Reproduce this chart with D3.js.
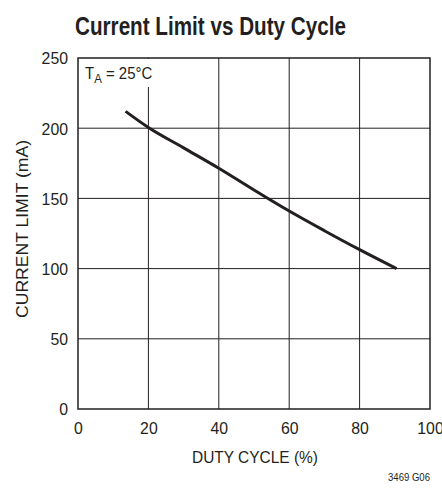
<!DOCTYPE html>
<html><head><meta charset="utf-8">
<script src="https://cdn.jsdelivr.net/npm/d3@7"></script>
<style>body{margin:0;background:#fff}svg{display:block}text{font-family:"Liberation Sans Narrow","Liberation Sans",Arial,sans-serif;fill:#231f20}</style>
</head><body><svg id="c" width="442" height="492"></svg>
<script>
const duty = [13.5, 20, 30, 40, 50, 60, 70, 80, 90.5];
const current = [212, 200.5, 186, 171.5, 156, 141, 127, 113.5, 100];
const xTicks = [0, 20, 40, 60, 80, 100];
const yTicks = [0, 50, 100, 150, 200, 250];

const svg = d3.select("#c");
const L = 78, R = 430, T = 58, B = 409;
const x = d3.scaleLinear().domain([0, 100]).range([L, R]);
const y = d3.scaleLinear().domain([0, 250]).range([B, T]);

function squeeze(sel, f) {
  sel.each(function() {
    const w = this.getComputedTextLength();
    d3.select(this).attr("textLength", w * f).attr("lengthAdjust", "spacingAndGlyphs");
  });
}
function fitTo(sel, w) {
  sel.attr("textLength", w).attr("lengthAdjust", "spacingAndGlyphs");
}

// grid
svg.append("g").selectAll("line").data(xTicks.slice(1, -1)).join("line")
  .attr("x1", d => x(d)).attr("x2", d => x(d)).attr("y1", T).attr("y2", B)
  .attr("stroke", "#231f20").attr("stroke-width", 1);
svg.append("g").selectAll("line").data(yTicks.slice(1, -1)).join("line")
  .attr("y1", d => y(d)).attr("y2", d => y(d)).attr("x1", L).attr("x2", R)
  .attr("stroke", "#231f20").attr("stroke-width", 1);

// label box covering grid
svg.append("rect").attr("x", L + 1).attr("y", T + 1).attr("width", 80).attr("height", 28).attr("fill", "#fff");
const lab = svg.append("text").attr("x", 85).attr("y", 79).attr("font-size", 17);
lab.append("tspan").text("T");
lab.append("tspan").attr("font-size", 13).attr("dy", 4).text("A");
lab.append("tspan").attr("dy", -4).text(" = 25°C");
squeeze(lab, 0.88);

// frame
svg.append("rect").attr("x", L).attr("y", T).attr("width", R - L).attr("height", B - T)
  .attr("fill", "none").attr("stroke", "#231f20").attr("stroke-width", 1.5);

// axes labels
const xa = svg.append("g").attr("transform", `translate(0,${B})`)
  .call(d3.axisBottom(x).tickValues(xTicks).tickSize(0).tickPadding(13));
xa.select(".domain").remove();
xa.selectAll("text").attr("font-size", 17).attr("font-family", null).attr("fill", "#231f20").attr("dy", "0.71em");
squeeze(xa.selectAll("text"), 0.93);
const ya = svg.append("g").attr("transform", `translate(${L},0)`)
  .call(d3.axisLeft(y).tickValues(yTicks).tickSize(0).tickPadding(10));
ya.select(".domain").remove();
ya.selectAll("text").attr("font-size", 17).attr("font-family", null).attr("fill", "#231f20").attr("dy", "0.35em");
squeeze(ya.selectAll("text"), 0.93);

// curve
svg.append("path").datum(duty.map((d, i) => [d, current[i]]))
  .attr("fill", "none").attr("stroke", "#231f20").attr("stroke-width", 3)
  .attr("d", d3.line().x(d => x(d[0])).y(d => y(d[1])).curve(d3.curveMonotoneX));

// titles
fitTo(svg.append("text").attr("x", 210.5).attr("y", 35).attr("text-anchor", "middle")
  .attr("font-size", 25).attr("font-weight", "bold").text("Current Limit vs Duty Cycle"), 271);
fitTo(svg.append("text").attr("x", 255).attr("y", 463).attr("text-anchor", "middle")
  .attr("font-size", 16.5).text("DUTY CYCLE (%)"), 126);
fitTo(svg.append("text").attr("transform", `translate(28,229) rotate(-90)`).attr("text-anchor", "middle")
  .attr("font-size", 16.5).text("CURRENT LIMIT (mA)"), 178);
fitTo(svg.append("text").attr("x", 430).attr("y", 481).attr("text-anchor", "end")
  .attr("font-size", 10).text("3469 G06"), 42);
</script></body></html>
